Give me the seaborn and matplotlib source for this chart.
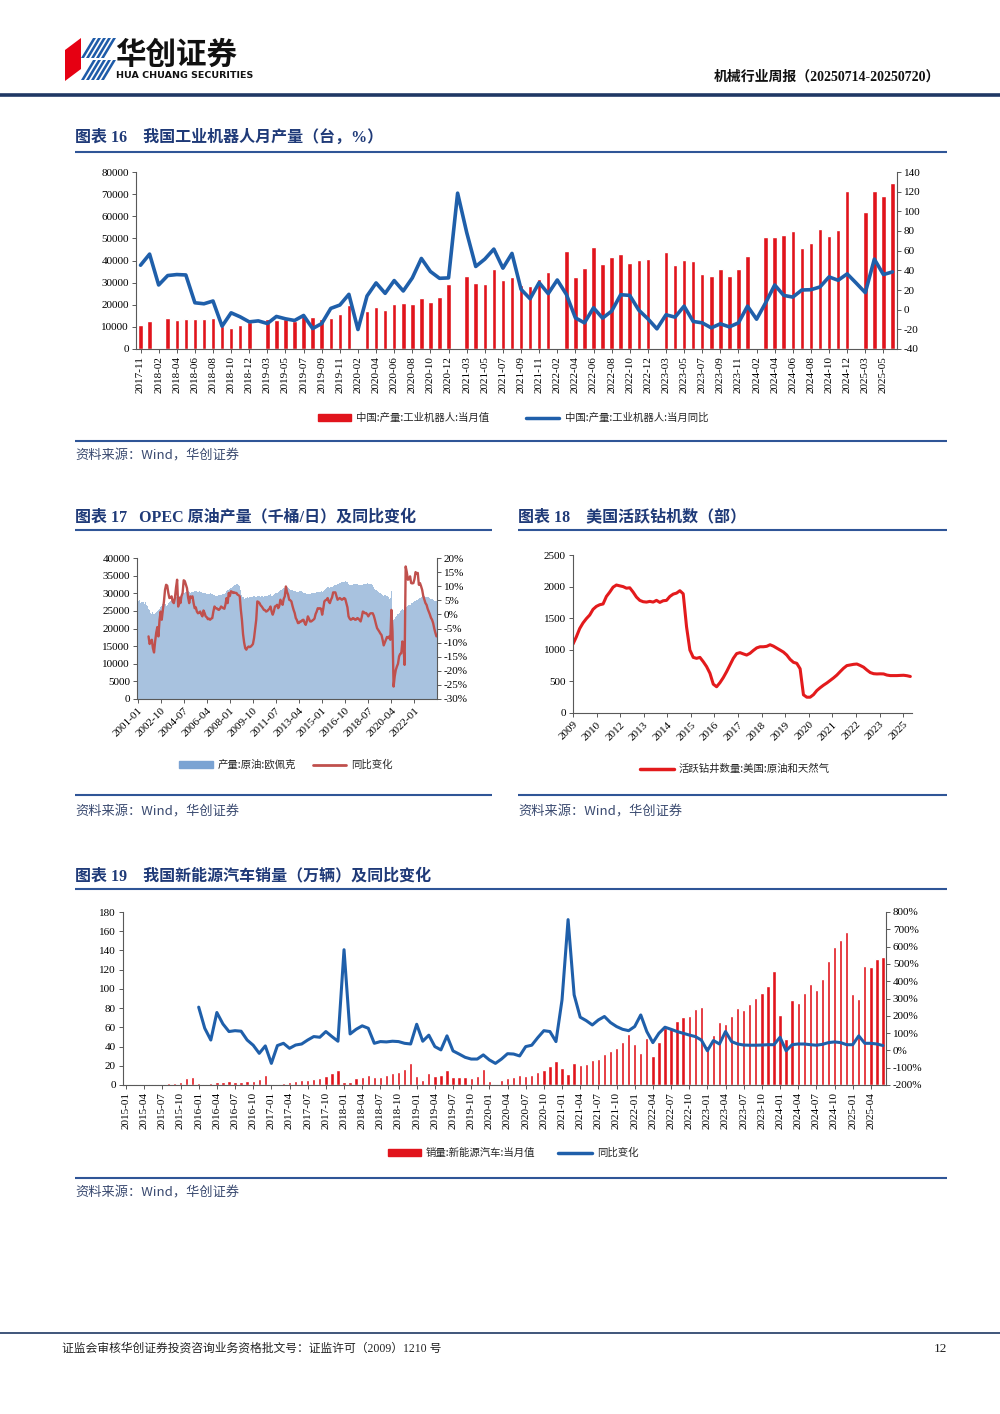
import numpy as np
import pandas as pd
import seaborn as sns
import matplotlib.pyplot as plt
from matplotlib.patches import Polygon, Patch
from matplotlib.lines import Line2D

# ---------------- data ----------------
# 图表16 工业机器人 (no January data; February has only yoy)
robot_months = ['2017-11', '2017-12'] + \
    [f'{y}-{m:02d}' for y in range(2018, 2025) for m in range(2, 13)] + \
    [f'2025-{m:02d}' for m in range(2, 7)]
robot_output = [11000, 12500,
                None, 14000, 13300, 13500, 13700, 13500, 14000, 10500, 9500, 11000, 12000,
                None, 13500, 13000, 13500, 12800, 15300, 14300, 13500, 14200, 16000, 20000,
                None, 17000, 19000, 17700, 20500, 21000, 20500, 23000, 21300, 23500, 29500,
                None, 33000, 30000, 29600, 36300, 31200, 32700, 28800, 28500, 31800, 35000,
                None, 44400, 32400, 36700, 46100, 38200, 41400, 42900, 38900, 40200, 40500,
                None, 43900, 38000, 40300, 40000, 34100, 33200, 36100, 32900, 36200, 42000,
                None, 50600, 50500, 51500, 53200, 45600, 47900, 54100, 50900, 53600, 71500,
                None, 61900, 71500, 69100, 75000]
robot_yoy = [45.2, 56.5,
             25.1, 34.7, 35.7, 35.3, 7.0, 6.0, 8.8, -16.8, -3.2, -7.3, -12.4,
             -11.4, -14.1, -6.9, -9.3, -11.0, -5.9, -19.2, -14.1, 1.3, 4.7, 15.6,
             -20.2, 13.9, 27.2, 16.6, 29.6, 19.0, 32.3, 52.1, 38.8, 31.9, 32.3,
             118.5, 78.6, 43.9, 51.4, 61.6, 42.2, 57.2, 20.7, 11.1, 27.5, 16.3,
             30.2, 15.6, -8.3, -13.4, 1.9, -8.6, -1.5, 15.2, 14.5, -0.5, -9.3,
             -19.5, -5.2, -7.6, 3.6, -12.0, -13.4, -18.5, -14.4, -17.5, -13.4, 3.6,
             -9.7, 7.0, 25.1, 14.5, 12.8, 20.0, 20.3, 23.1, 33.3, 29.9, 36.4,
             27.0, 17.3, 51.4, 35.7, 38.4]

# 图表17 OPEC 原油产量 2001-01 .. 2023-09, yoy from 2001-11
opec_months = [str(p) for p in pd.period_range('2001-01', '2023-09', freq='M')]
opec_output = [28200, 27800, 28000, 27200, 27600, 27400, 27000, 27400, 26800, 26500, 25500, 25200,
               24500, 24000, 24800, 24200, 24500, 24800, 25000, 25200, 25600, 26000, 26500, 27000,
               27500, 27000, 26500, 26800, 27200, 27600, 27800, 28000, 28200, 28500, 28600, 28800,
               28800, 29000, 29200, 29300, 29500, 29800, 30000, 30200, 30300, 30400, 30500, 30300,
               30200, 30300, 30400, 30400, 30500, 30600, 30500, 30400, 30500, 30400, 30300, 30200,
               30100, 30200, 30000, 29900, 29800, 29900, 30000, 29900, 29800, 29600, 29500, 29300,
               29200, 29300, 29400, 29500, 29600, 29700, 29800, 29900, 30200, 30500, 30800, 31000,
               31200, 31500, 31800, 32000, 32200, 32400, 32500, 32600, 32400, 32000, 31000, 29500,
               28800, 28500, 28600, 28700, 28800, 28700, 28900, 28800, 28900, 29000, 29100, 29000,
               29000, 29100, 29200, 29100, 29000, 29200, 29100, 29000, 29200, 29100, 29300, 29400,
               29500, 29800, 29300, 29200, 29500, 29800, 30000, 30200, 30400, 30600, 30800, 31000,
               31200, 31400, 31500, 31800, 31700, 31500, 31200, 31000, 30900, 30800, 30600, 30500,
               30500, 30400, 30300, 30500, 30600, 30500, 30300, 30100, 30200, 30000, 29800, 29700,
               29800, 29900, 30000, 30100, 30200, 30000, 30200, 30300, 30400, 30300, 30400, 30500,
               30400, 30600, 31000, 31200, 31400, 31800, 31700, 31600, 31800, 31900, 32100, 32200,
               32300, 32400, 32500, 32700, 32800, 33000, 33100, 33300, 33300, 33400, 33300, 33100,
               32500, 32300, 32200, 32300, 32400, 32500, 32600, 32600, 32500, 32400, 32300, 32300,
               32300, 32400, 32500, 32600, 32700, 32800, 32600, 32500, 32600, 32500, 32400, 31800,
               31200, 30800, 30500, 30300, 30200, 30000, 29800, 29600, 29200, 29500, 29400, 29200,
               28800, 28500, 28600, 30500, 24500, 22400, 22800, 23300, 23600, 24000, 24500, 25000,
               25200, 25400, 25300, 25500, 25800, 26000, 26400, 26600, 26800, 27100, 27300, 27500,
               27700, 27900, 28000, 28200, 28400, 28600, 28800, 29100, 29300, 29100, 28900, 28800,
               28900, 28800, 28700, 28500, 28300, 28100, 27900, 27800, 27700]
opec_yoy = [-7.8, -10.5,
            -9.5, -9.0, -12.0, -13.5, -9.6, -6.5, -4.5, -7.8, -2.0, 1.0, -1.9, 1.5,
            4.5, 8.7, 10.5, 10.2, 7.6, 5.8, 6.0, 6.4, 4.5, 4.0, 5.8, 9.5,
            12.3, 2.8, 5.8, 4.0, 6.5, 7.6, 12.1, 11.8, 10.5, 9.3, 6.0, 4.0,
            6.4, 6.0, 6.4, 4.0, 2.2, 2.5, 1.0, 0.4, 0.6, 1.0, 0.0, -0.7,
            1.4, 0.5, -0.7, -1.0, -1.7, -1.5, -1.9, -1.5, -1.3, 1.0, 2.8, 2.2,
            2.2, 1.8, 1.6, 2.0, 2.8, 2.5, 2.2, 2.0, 3.5, 5.8, 4.0, 7.6,
            6.5, 8.2, 8.0, 7.6, 7.8, 7.6, 7.6, 7.0, 6.8, 6.4, 1.6, -2.0,
            -7.0, -10.0, -12.0, -12.5, -11.8, -11.4, -11.6, -11.4, -11.0, -10.5, -8.4, -5.0,
            -1.9, 4.6, 4.4, 4.0, 3.2, 2.8, 2.2, 1.6, 1.5, 1.0, 1.2, 1.6,
            2.0, 2.8, 1.0, -0.1, 1.0, 2.8, 3.0, 3.4, 2.2, 3.0, 5.2, 4.0,
            3.4, 5.5, 6.4, 9.9, 8.0, 7.0, 5.2, 5.0, 4.6, 3.0, 1.6, 0.5,
            -1.3, -2.0, -3.1, -3.0, -2.5, -2.5, -2.0, -1.9, -3.0, -3.7, -2.5, -0.7,
            -1.5, -2.5, -2.5, -2.2, -1.9, -1.5, 0.1, 1.0, 2.2, 2.0, 2.2, 2.0,
            -0.1, 2.0, 4.6, 5.0, 5.2, 5.8, 4.5, 4.0, 5.2, 6.0, 7.8, 7.8,
            7.8, 6.5, 5.2, 5.5, 5.8, 5.5, 5.2, 5.5, 5.8, 5.5, 4.0, 2.5,
            -0.7, -1.5, -1.9, -1.7, -1.3, -1.5, -1.9, -1.8, -1.3, -1.5, -2.0, -2.5,
            -1.0, 1.0, 0.8, 0.4, 0.5, 0.0, -0.7, 0.0, 0.4, 0.4, 0.4, -0.5,
            -1.9, -3.5, -4.9, -5.5, -6.1, -6.8, -7.3, -9.0, -11.0, -10.0, -9.0, -8.0,
            -8.4, -7.8, -9.0, 1.6, -6.0, -25.6, -22.0, -19.7, -18.5, -17.5, -14.9, -14.0,
            -13.8, -9.6, -11.0, -17.9, 17.0, 15.0, 12.3, 12.5, 13.5, 11.1, 11.0, 11.1,
            12.5, 15.0, 14.5, 14.7, 10.5, 11.1, 10.0, 8.7, 6.5, 5.2, 4.0, 3.4,
            2.0, 1.0, 0.0, -1.2, -1.9, -3.1, -5.0, -6.5, -7.8]

# 图表18 美国活跃钻机数 (samples)
rig_labels = ['2009', '2010', '2012', '2013', '2014', '2015', '2016', '2017',
              '2018', '2019', '2020', '2021', '2022', '2023', '2025']
rig_count = [1090, 1205, 1336, 1425, 1493, 1550, 1640, 1687, 1713, 1725,
             1844, 1913, 1991, 2025, 2012, 2000, 1975, 1981, 1913, 1834,
             1782, 1761, 1755, 1766, 1755, 1782, 1750, 1776, 1782, 1844,
             1881, 1897, 1935, 1886, 1362, 996, 880, 865, 880, 812,
             734, 629, 456, 415, 480, 560, 655, 760, 865, 940,
             955, 935, 917, 945, 990, 1030, 1048, 1048, 1055, 1080,
             1058, 1027, 996, 964, 917, 849, 802, 786, 700, 288,
             250, 250, 290, 355, 400, 440, 475, 515, 555, 600,
             655, 708, 750, 760, 770, 775, 752, 725, 680, 640,
             622, 618, 620, 618, 600, 592, 592, 592, 595, 597,
             590, 578]

# 图表19 新能源汽车销量 2015-01 .. 2025-06, yoy from 2016-01
nev_months = [str(p) for p in pd.period_range('2015-01', '2025-06', freq='M')]
nev_sales = [0.4, 0.6, 0.9, 1.0, 1.0, 1.5, 1.5, 1.9, 2.3, 3.2, 7.2, 8.5,
             2.1, 1.4, 2.2, 3.1, 3.3, 3.8, 3.5, 3.6, 4.0, 4.2, 6.2, 10.4,
             0.6, 1.5, 2.6, 3.1, 4.5, 5.6, 5.0, 6.2, 7.8, 9.0, 12.0, 16.0,
             3.5, 2.9, 6.8, 8.2, 10.2, 8.4, 8.5, 10.1, 12.1, 13.8, 17.0, 22.5,
             9.6, 5.3, 12.6, 9.7, 10.4, 15.2, 8.0, 8.5, 8.0, 7.5, 9.5, 16.3,
             4.4, 1.3, 5.3, 7.2, 8.2, 10.4, 9.8, 10.9, 13.8, 16.0, 20.0, 24.8,
             17.9, 11.0, 22.6, 20.6, 21.7, 25.6, 27.1, 32.1, 35.7, 38.3, 45.0, 53.1,
             43.1, 33.4, 48.4, 29.9, 44.7, 59.6, 59.3, 66.6, 70.8, 71.4, 78.6, 81.4,
             40.8, 52.5, 65.3, 63.6, 71.7, 80.6, 78.0, 84.6, 90.4, 95.6, 102.6, 119.1,
             72.9, 47.7, 88.3, 85.0, 95.5, 104.9, 99.1, 110.0, 128.7, 143.2, 151.2, 159.6,
             94.4, 89.2, 123.7, 122.6, 130.7, 132.9]
nev_yoy = [250, 128, 60, 219, 153, 109, 114, 111, 60, 30, -17, 26,
           -75, 28, 41, 12, 31, 37, 60, 80, 76, 109, 80, 53,
           582, 95, 122, 142, 128, 41, 51, 49, 53, 51, 41, 37,
           151, 53, 88, 22, 3, 84, -3, -21, -40, -50, -50, -26,
           -55, -75, -50, -19, -21, -32, 22, 30, 74, 114, 109, 51,
           292, 756, 321, 192, 172, 147, 176, 196, 161, 138, 122, 114,
           138, 205, 109, 45, 99, 134, 122, 109, 99, 89, 80, 60,
           -2, 57, 37, 109, 51, 37, 31, 30, 30, 31, 33, 33,
           76, -2, 33, 37, 37, 33, 30, 35, 45, 49, 45, 33,
           33, 84, 41, 41, 37, 28]

RED = '#E1141C'
BLUE = '#1F5FAA'
NAVY = '#1F3A78'
RULE = '#2F5597'
GREY = '#595959'

sns.set_theme(style='ticks')
plt.rcParams['font.family'] = ['Liberation Serif', 'Noto Sans CJK SC', 'DejaVu Sans']
plt.rcParams['axes.unicode_minus'] = False

W, H = 1000, 1414
fig = plt.figure(figsize=(10, 14.14), dpi=100)
page = fig.add_axes([0, 0, 1, 1])
page.set_xlim(0, W)
page.set_ylim(H, 0)
page.axis('off')


def box(l, t, r, b):
    return fig.add_axes([l / W, 1 - b / H, (r - l) / W, (b - t) / H])


def tidy(ax, ax2=None):
    ax.spines['top'].set_visible(False)
    ax.spines['right'].set_visible(False)
    for s in ['left', 'bottom']:
        ax.spines[s].set_color(GREY)
        ax.spines[s].set_linewidth(0.8)
    ax.tick_params(length=3, width=0.7, color=GREY, labelsize=8, pad=2, labelcolor='black')
    ax.set_xlabel('')
    ax.set_ylabel('')
    if ax2 is not None:
        for s in ['top', 'left', 'bottom']:
            ax2.spines[s].set_visible(False)
        ax2.spines['right'].set_color(GREY)
        ax2.spines['right'].set_linewidth(0.8)
        ax2.tick_params(length=3, width=0.7, color=GREY, labelsize=8, pad=2, labelcolor='black')
        ax2.set_xlabel('')
        ax2.set_ylabel('')


def rule(x0, x1, y, lw=1.5, color=RULE):
    page.plot([x0, x1], [y, y], color=color, lw=lw, solid_capstyle='butt')


def title(x, y, txt):
    page.text(x, y, txt, fontsize=11.5, fontweight='bold', color=NAVY, va='center', ha='left')


def source(x, y):
    page.text(x, y, '资料来源：Wind，华创证券', fontsize=9.5, style='italic', color='#3A4A70',
              va='center', ha='left', family=['Noto Sans CJK SC'])


leg_prop = {'family': ['Noto Sans CJK SC'], 'size': 7.5}

# ---------------- header ----------------
page.add_patch(Polygon([(65, 50), (81, 38), (81, 69), (65, 81)], closed=True, color='#E60012', lw=0))
for k in range(5):
    page.add_patch(Polygon([(81 + 5 * k, 58), (84 + 5 * k, 58), (96 + 5 * k, 38), (93 + 5 * k, 38)],
                           closed=True, color='#1E5BA8', lw=0))
    page.add_patch(Polygon([(81 + 5 * k, 80), (84 + 5 * k, 80), (96 + 5 * k, 60), (93 + 5 * k, 60)],
                           closed=True, color='#1E5BA8', lw=0))
page.text(115, 55, '华创证券', fontsize=22, fontweight='bold', color='#111111', va='center', ha='left',
          family=['Noto Sans CJK SC'])
page.text(116, 75, 'HUA CHUANG SECURITIES', fontsize=6.8, fontweight='bold', color='#111111',
          va='center', ha='left', family=['DejaVu Sans'])
page.text(940, 77, '机械行业周报（20250714-20250720）', fontsize=10, fontweight='bold', color='#111111',
          va='center', ha='right')
rule(0, W, 95, lw=2.6, color='#1F3864')

# ---------------- 图表16 ----------------
title(75, 138, '图表 16    我国工业机器人月产量（台，%）')
rule(75, 947, 152)
ax = box(136, 172, 897, 349)
df16 = pd.DataFrame({'month': robot_months, 'output': pd.Series(robot_output, dtype=float)})
sns.barplot(data=df16.dropna(), x='month', y='output', order=robot_months, color=RED,
            saturation=1, width=0.5, ax=ax)
ax.set_xlim(-0.5, len(robot_months) - 0.5)
ax.set_ylim(0, 80000)
ax.set_yticks(range(0, 80001, 10000))
ax.set_xticks(range(0, len(robot_months), 2))
ax.set_xticklabels(robot_months[::2], rotation=90)
ax2 = ax.twinx()
sns.lineplot(x=np.arange(len(robot_months)), y=robot_yoy, color=BLUE, lw=2.6, ax=ax2)
ax2.set_ylim(-40, 140)
ax2.set_yticks(range(-40, 141, 20))
ax2.set_xlim(-0.5, len(robot_months) - 0.5)
tidy(ax, ax2)
fig.legend(handles=[Patch(color=RED, label='中国:产量:工业机器人:当月值'),
                    Line2D([], [], color=BLUE, lw=2.5, label='中国:产量:工业机器人:当月同比')],
           loc='center', bbox_to_anchor=(513 / W, 1 - 418 / H), ncol=2, frameon=False, prop=leg_prop,
           handlelength=3.2, handleheight=0.55, columnspacing=3.5, handletextpad=0.5)
rule(75, 947, 441)
source(75, 456)

# ---------------- 图表17 ----------------
title(75, 517, '图表 17   OPEC 原油产量（千桶/日）及同比变化')
rule(75, 492, 530)
ax = box(137, 558, 437, 699)
sns.barplot(x=opec_months, y=opec_output, color='#A8C2DF', saturation=1, width=1.0, linewidth=0, ax=ax)
ax.set_xlim(-0.5, len(opec_months) - 0.5)
ax.set_ylim(0, 40000)
ax.set_yticks(range(0, 40001, 5000))
ax.set_xticks(range(0, len(opec_months), 21))
ax.set_xticklabels(opec_months[::21], rotation=45, ha='right', rotation_mode='anchor')
ax2 = ax.twinx()
sns.lineplot(x=np.arange(10, len(opec_months)), y=opec_yoy, color='#C0504D', lw=1.7, ax=ax2)
ax2.set_ylim(-30, 20)
ax2.set_yticks(range(-30, 21, 5))
ax2.set_yticklabels([f'{v}%' for v in range(-30, 21, 5)])
ax2.set_xlim(-0.5, len(opec_months) - 0.5)
tidy(ax, ax2)
fig.legend(handles=[Patch(color='#7BA3D3', label='产量:原油:欧佩克'),
                    Line2D([], [], color='#C0504D', lw=2, label='同比变化')],
           loc='center', bbox_to_anchor=(286 / W, 1 - 765 / H), ncol=2, frameon=False, prop=leg_prop,
           handlelength=3.2, handleheight=0.55, columnspacing=1.6, handletextpad=0.5)
rule(75, 492, 795)
source(75, 812)

# ---------------- 图表18 ----------------
title(518, 517, '图表 18    美国活跃钻机数（部）')
rule(518, 947, 530)
ax = box(573, 555, 912, 713)
sns.lineplot(x=np.arange(len(rig_count)), y=rig_count, color='#E31A1C', lw=2.2, ax=ax)
ax.set_xlim(0, len(rig_count) - 0.5)
ax.set_ylim(0, 2500)
ax.set_yticks(range(0, 2501, 500))
ax.set_xticks(np.arange(len(rig_labels)) * 7.06)
ax.set_xticklabels(rig_labels, rotation=45, ha='right', rotation_mode='anchor')
tidy(ax)
fig.legend(handles=[Line2D([], [], color='#E31A1C', lw=2.5, label='活跃钻井数量:美国:原油和天然气')],
           loc='center', bbox_to_anchor=(735 / W, 1 - 769 / H), ncol=1, frameon=False, prop=leg_prop,
           handlelength=3.2, handletextpad=0.5)
rule(518, 947, 795)
source(518, 812)

# ---------------- 图表19 ----------------
title(75, 876, '图表 19    我国新能源汽车销量（万辆）及同比变化')
rule(75, 947, 889)
ax = box(123, 912, 886, 1085)
sns.barplot(x=nev_months, y=nev_sales, color=RED, saturation=1, width=0.55, ax=ax)
ax.set_xlim(-0.5, len(nev_months) - 0.5)
ax.set_ylim(0, 180)
ax.set_yticks(range(0, 181, 20))
ax.set_xticks(range(0, len(nev_months), 3))
ax.set_xticklabels(nev_months[::3], rotation=90)
ax2 = ax.twinx()
sns.lineplot(x=np.arange(12, len(nev_months)), y=nev_yoy, color=BLUE, lw=2.2, ax=ax2)
ax2.set_ylim(-200, 800)
ax2.set_yticks(range(-200, 801, 100))
ax2.set_yticklabels([f'{v}%' for v in range(-200, 801, 100)])
ax2.set_xlim(-0.5, len(nev_months) - 0.5)
tidy(ax, ax2)
fig.legend(handles=[Patch(color=RED, label='销量:新能源汽车:当月值'),
                    Line2D([], [], color=BLUE, lw=2.5, label='同比变化')],
           loc='center', bbox_to_anchor=(513 / W, 1 - 1153 / H), ncol=2, frameon=False, prop=leg_prop,
           handlelength=3.2, handleheight=0.55, columnspacing=2.2, handletextpad=0.5)
rule(75, 947, 1178)
source(75, 1193)

# ---------------- footer ----------------
rule(0, W, 1333, lw=1.2, color='#1F3864')
page.text(62, 1349, '证监会审核华创证券投资咨询业务资格批文号：证监许可（2009）1210 号', fontsize=8.5,
          color='#222222', va='center', ha='left')
page.text(947, 1349, '12', fontsize=9.5, color='#222222', va='center', ha='right')

fig.savefig('out.png', dpi=100)
